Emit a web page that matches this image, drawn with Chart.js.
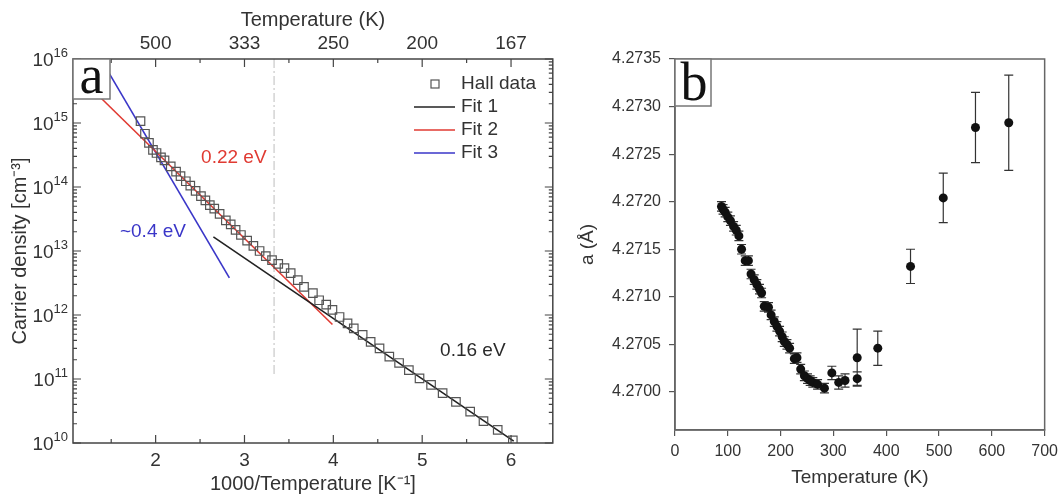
<!DOCTYPE html>
<html>
<head>
<meta charset="utf-8">
<script src="https://cdn.jsdelivr.net/npm/chart.js@4.4.1/dist/chart.umd.min.js"></script>
<style>
  html, body { margin: 0; padding: 0; background: #fff; }
  #wrap { position: relative; width: 1064px; height: 498px; }
  .panel { position: absolute; top: 0; }
</style>
</head>
<body>
<div id="wrap">
  <div class="panel" style="left:0"><canvas id="hall" width="560" height="498"></canvas></div>
  <div class="panel" style="left:560px"><canvas id="lattice" width="504" height="498"></canvas></div>
</div>
<script>
// panel a: Hall carrier density vs 1000/T
const hallX = [1.83, 1.88, 1.925, 1.97, 2.01, 2.06, 2.10, 2.17, 2.23, 2.28, 2.34, 2.39, 2.45, 2.51,
  2.56, 2.61, 2.66, 2.72, 2.79, 2.845, 2.90, 2.96, 3.03, 3.10, 3.17, 3.24, 3.31, 3.38, 3.45, 3.52,
  3.60, 3.67, 3.77, 3.84, 3.92, 3.99, 4.07, 4.16, 4.23, 4.33, 4.42, 4.52, 4.63, 4.74, 4.85, 4.97,
  5.10, 5.23, 5.38, 5.54, 5.69, 5.85, 6.02];
const hallN = [1.07e15, 6.8e14, 4.9e14, 3.8e14, 3.4e14, 2.9e14, 2.6e14, 2.1e14, 1.74e14, 1.48e14,
  1.23e14, 1.05e14, 8.7e13, 7.2e13, 6.2e13, 5.2e13, 4.6e13, 3.8e13, 3.0e13, 2.6e13, 2.14e13, 1.78e13,
  1.45e13, 1.20e13, 1.0e13, 8.3e12, 7.2e12, 6.3e12, 5.4e12, 4.5e12, 3.5e12, 2.75e12, 2.19e12, 1.70e12,
  1.45e12, 1.20e12, 9.3e11, 7.4e11, 6.2e11, 4.9e11, 3.8e11, 3.0e11, 2.24e11, 1.78e11, 1.38e11, 1.02e11,
  8.1e10, 6.0e10, 4.4e10, 3.1e10, 2.2e10, 1.6e10, 1.1e10];

const fit1X = [2.65, 6.03];
const fit1N = [1.66e13, 1.07e10];
const fit2X = [1.10, 3.99];
const fit2N = [6.0e15, 7.1e11];
const fit3X = [1.40, 2.83];
const fit3N = [9.1e15, 3.8e12];
const roomTX = [3.333, 3.333];   // 300 K marker
const roomTN = [1e16, 1.1e11];

const invTTicks = [2, 3, 4, 5, 6];
const invTMinor = [1.5, 2.5, 3.5, 4.5, 5.5];
const decadeTicks = [1e10, 1e11, 1e12, 1e13, 1e14, 1e15, 1e16];
const decadeExp = ['10', '11', '12', '13', '14', '15', '16'];

// panel b: lattice parameter vs temperature
const tempK = [88, 91, 95, 100, 105, 111, 116, 121, 126, 133, 139, 144, 150, 155, 160, 164, 169, 177,
  182, 188, 193, 198, 203, 207, 212, 217, 226, 231, 238, 245, 251, 256, 261, 270, 283, 297, 310, 322,
  345, 345, 384, 446, 508, 569, 632];
const latticeA = [4.27195, 4.27192, 4.27189, 4.27184, 4.27180, 4.27174, 4.27170, 4.27164, 4.27150,
  4.27138, 4.27138, 4.27124, 4.27118, 4.27113, 4.27108, 4.27104, 4.27090, 4.27089, 4.27081, 4.27074,
  4.27069, 4.27064, 4.27058, 4.27053, 4.27050, 4.27046, 4.27035, 4.27036, 4.27024, 4.27017, 4.27014,
  4.27012, 4.27010, 4.27008, 4.27004, 4.27020, 4.27010, 4.27012, 4.27014, 4.27036, 4.27046, 4.27132,
  4.27204, 4.27278, 4.27283];
const latticeErr = [0.00005, 0.00005, 0.00005, 0.00005, 0.00005, 0.00005, 0.00005, 0.00005, 0.00005,
  0.00005, 0.00005, 0.00005, 0.00005, 0.00005, 0.00005, 0.00005, 0.00005, 0.00005, 0.00005, 0.00005,
  0.00005, 0.00005, 0.00005, 0.00005, 0.00005, 0.00005, 0.00005, 0.00005, 0.00005, 0.00005, 0.00005,
  0.00005, 0.00005, 0.00005, 0.00005, 0.00007, 0.00007, 0.00007, 0.00007, 0.00030, 0.00018, 0.00018,
  0.00026, 0.00037, 0.00050];
const tempTicks = [0, 100, 200, 300, 400, 500, 600, 700];
const aTicks = [4.2700, 4.2705, 4.2710, 4.2715, 4.2720, 4.2725, 4.2730, 4.2735];

const SANS = '"Liberation Sans", Arial, sans-serif';
const SERIF = '"Liberation Serif", "Times New Roman", serif';
const INK = '#333';

const toPts = (xs, ys) => xs.map((x, i) => ({ x: x, y: ys[i] }));
const fixTicks = vals => scale => { scale.ticks = vals.map(v => ({ value: v })); };

// text notes on panel a, in data coordinates
const hallNotes = [
  { text: '0.22 eV', x: 2.88, y: 2.9e14, color: '#e03a32' },
  { text: '~0.4 eV', x: 1.97, y: 2.0e13, color: '#3a36c8' },
  { text: '0.16 eV', x: 5.57, y: 2.8e11, color: '#2a2a2a' }
];

const hallExtras = {
  id: 'hallExtras',
  afterDatasetsDraw(chart) {
    const { ctx, chartArea: a, scales } = chart;
    const sx = scales.x, sy = scales.y;
    ctx.save();

    // inward ticks on all four sides
    ctx.strokeStyle = '#444';
    ctx.lineWidth = 1.2;
    ctx.beginPath();
    const xTick = (v, len) => {
      const px = sx.getPixelForValue(v);
      ctx.moveTo(px, a.bottom); ctx.lineTo(px, a.bottom - len);
      ctx.moveTo(px, a.top); ctx.lineTo(px, a.top + len);
    };
    const yTick = (v, len) => {
      const py = sy.getPixelForValue(v);
      ctx.moveTo(a.left, py); ctx.lineTo(a.left + len, py);
      ctx.moveTo(a.right, py); ctx.lineTo(a.right - len, py);
    };
    invTTicks.forEach(v => xTick(v, 8));
    invTMinor.forEach(v => xTick(v, 4));
    decadeTicks.forEach(v => yTick(v, 8));
    decadeTicks.slice(0, -1).forEach(d => {
      for (let m = 2; m < 10; m++) yTick(d * m, 4);
    });
    ctx.stroke();

    // frame
    ctx.strokeStyle = '#444';
    ctx.lineWidth = 1.5;
    ctx.strokeRect(a.left, a.top, a.width, a.height);

    // decade labels 10^n with a raised exponent
    ctx.fillStyle = INK;
    ctx.textBaseline = 'alphabetic';
    ctx.textAlign = 'left';
    decadeTicks.forEach((v, i) => {
      const py = sy.getPixelForValue(v);
      ctx.font = '13px ' + SANS;
      const ew = ctx.measureText(decadeExp[i]).width;
      ctx.font = '19px ' + SANS;
      const bw = ctx.measureText('10').width;
      const right = a.left - 5;
      ctx.fillText('10', right - ew - bw, py + 7);
      ctx.font = '13px ' + SANS;
      ctx.fillText(decadeExp[i], right - ew, py - 2);
    });

    // notes
    ctx.font = '19px ' + SANS;
    ctx.textAlign = 'center';
    ctx.textBaseline = 'middle';
    hallNotes.forEach(n => {
      ctx.fillStyle = n.color;
      ctx.fillText(n.text, sx.getPixelForValue(n.x), sy.getPixelForValue(n.y));
    });

    // legend
    const ds = chart.data.datasets;
    const rows = [84, 107, 130, 153];
    ctx.textAlign = 'left';
    ctx.fillStyle = INK;
    ctx.strokeStyle = ds[0].borderColor;
    ctx.lineWidth = 1.2;
    ctx.strokeRect(431, rows[0] - 4, 8, 8);
    ctx.fillText(ds[0].label, 461, rows[0]);
    for (let i = 1; i <= 3; i++) {
      ctx.strokeStyle = ds[i].borderColor;
      ctx.lineWidth = 1.6;
      ctx.beginPath();
      ctx.moveTo(414, rows[i]); ctx.lineTo(455, rows[i]);
      ctx.stroke();
      ctx.fillText(ds[i].label, 461, rows[i]);
    }

    // panel letter
    ctx.fillStyle = '#fff';
    ctx.fillRect(a.left, a.top, 37, 40);
    ctx.strokeStyle = '#777';
    ctx.lineWidth = 1.5;
    ctx.strokeRect(a.left, a.top, 37, 40);
    ctx.fillStyle = '#111';
    ctx.font = '54px ' + SERIF;
    ctx.textAlign = 'center';
    ctx.textBaseline = 'alphabetic';
    ctx.fillText('a', a.left + 18.5, a.top + 34);
    ctx.restore();
  }
};

new Chart(document.getElementById('hall'), {
  type: 'scatter',
  data: {
    datasets: [
      { label: 'Hall data', data: toPts(hallX, hallN), pointStyle: 'rect', pointRadius: 6,
        borderColor: '#555', backgroundColor: 'rgba(0,0,0,0)', borderWidth: 1.2, showLine: false },
      { label: 'Fit 1', data: toPts(fit1X, fit1N), showLine: true, borderColor: '#222',
        borderWidth: 1.6, pointRadius: 0 },
      { label: 'Fit 2', data: toPts(fit2X, fit2N), showLine: true, borderColor: '#e03a32',
        borderWidth: 1.6, pointRadius: 0 },
      { label: 'Fit 3', data: toPts(fit3X, fit3N), showLine: true, borderColor: '#3a36c8',
        borderWidth: 1.6, pointRadius: 0 },
      { label: '300 K', data: toPts(roomTX, roomTN), showLine: true, borderColor: '#c8c8c8',
        borderWidth: 1.2, borderDash: [9, 3, 2, 3], pointRadius: 0 }
    ]
  },
  options: {
    responsive: false,
    animation: false,
    layout: { padding: { left: 0, right: 7, top: 0, bottom: 0 } },
    plugins: { legend: { display: false }, tooltip: { enabled: false } },
    scales: {
      x: {
        type: 'linear', position: 'bottom', min: 1.07, max: 6.47,
        afterBuildTicks: fixTicks(invTTicks),
        afterFit: s => { s.height = 55; },
        grid: { display: false, drawTicks: false }, border: { display: false },
        ticks: { color: INK, font: { family: SANS, size: 19 }, padding: 6, autoSkip: false, maxRotation: 0 },
        title: { display: true, text: '1000/Temperature [K⁻¹]', color: INK,
          font: { family: SANS, size: 20 }, padding: { top: 0, bottom: 2 } }
      },
      xTop: {
        type: 'linear', position: 'top', min: 1.07, max: 6.47,
        afterBuildTicks: fixTicks(invTTicks),
        afterFit: s => { s.height = 59; },
        grid: { display: false, drawTicks: false }, border: { display: false },
        ticks: { color: INK, font: { family: SANS, size: 19 }, padding: 4, autoSkip: false, maxRotation: 0,
          callback: v => String(Math.round(1000 / v)) },
        title: { display: true, text: 'Temperature (K)', color: INK,
          font: { family: SANS, size: 20 }, padding: { top: 8, bottom: 0 } }
      },
      y: {
        type: 'logarithmic', position: 'left', min: 1e10, max: 1e16,
        afterBuildTicks: fixTicks(decadeTicks),
        afterFit: s => { s.width = 73; },
        grid: { display: false, drawTicks: false }, border: { display: false },
        ticks: { display: false },
        title: { display: true, text: 'Carrier density [cm⁻³]', color: INK,
          font: { family: SANS, size: 20 }, padding: { top: 8, bottom: 0 } }
      }
    }
  },
  plugins: [hallExtras]
});

const latticeExtras = {
  id: 'latticeExtras',
  beforeDatasetsDraw(chart) {
    const { ctx, scales } = chart;
    ctx.save();
    ctx.strokeStyle = '#333';
    ctx.lineWidth = 1.2;
    ctx.beginPath();
    tempK.forEach((t, i) => {
      const px = scales.x.getPixelForValue(t);
      const top = scales.y.getPixelForValue(latticeA[i] + latticeErr[i]);
      const bot = scales.y.getPixelForValue(latticeA[i] - latticeErr[i]);
      ctx.moveTo(px, top); ctx.lineTo(px, bot);
      ctx.moveTo(px - 4.5, top); ctx.lineTo(px + 4.5, top);
      ctx.moveTo(px - 4.5, bot); ctx.lineTo(px + 4.5, bot);
    });
    ctx.stroke();
    ctx.restore();
  },
  afterDraw(chart) {
    const { ctx, chartArea: a } = chart;
    ctx.save();
    ctx.strokeStyle = '#666';
    ctx.lineWidth = 1.5;
    ctx.strokeRect(a.left, a.top, a.width, a.height);
    ctx.fillStyle = '#fff';
    ctx.fillRect(a.left, a.top, 36, 47);
    ctx.strokeStyle = '#777';
    ctx.strokeRect(a.left, a.top, 36, 47);
    ctx.fillStyle = '#111';
    ctx.font = '54px ' + SERIF;
    ctx.textAlign = 'center';
    ctx.textBaseline = 'alphabetic';
    ctx.fillText('b', a.left + 19, a.top + 41);
    ctx.restore();
  }
};

new Chart(document.getElementById('lattice'), {
  type: 'scatter',
  data: {
    datasets: [{
      label: 'a', data: toPts(tempK, latticeA), pointRadius: 4.5,
      backgroundColor: '#111', borderColor: '#111', borderWidth: 0
    }]
  },
  options: {
    responsive: false,
    animation: false,
    layout: { padding: { left: 0, right: 17, top: 59, bottom: 0 } },
    plugins: { legend: { display: false }, tooltip: { enabled: false } },
    scales: {
      x: {
        type: 'linear', min: 0, max: 700,
        afterBuildTicks: fixTicks(tempTicks),
        afterFit: s => { s.height = 68; },
        grid: { drawOnChartArea: false, drawTicks: true, tickLength: 6, color: '#555', lineWidth: 1.2 },
        border: { display: true, color: '#666', width: 1.5 },
        ticks: { color: INK, font: { family: SANS, size: 16 }, padding: 6, autoSkip: false, maxRotation: 0 },
        title: { display: true, text: 'Temperature (K)', color: INK,
          font: { family: SANS, size: 19 }, padding: { top: 0, bottom: 9 } }
      },
      y: {
        type: 'linear', min: 4.2696, max: 4.2735,
        afterBuildTicks: fixTicks(aTicks),
        afterFit: s => { s.width = 115; },
        grid: { drawOnChartArea: false, drawTicks: true, tickLength: 6, color: '#555', lineWidth: 1.2 },
        border: { display: true, color: '#666', width: 1.5 },
        ticks: { color: INK, font: { family: SANS, size: 16 }, padding: 8, autoSkip: false,
          callback: v => v.toFixed(4) },
        title: { display: true, text: 'a (Å)', color: INK,
          font: { family: SANS, size: 19 }, padding: { top: 16, bottom: 0 } }
      }
    }
  },
  plugins: [latticeExtras]
});
</script>
</body>
</html>
